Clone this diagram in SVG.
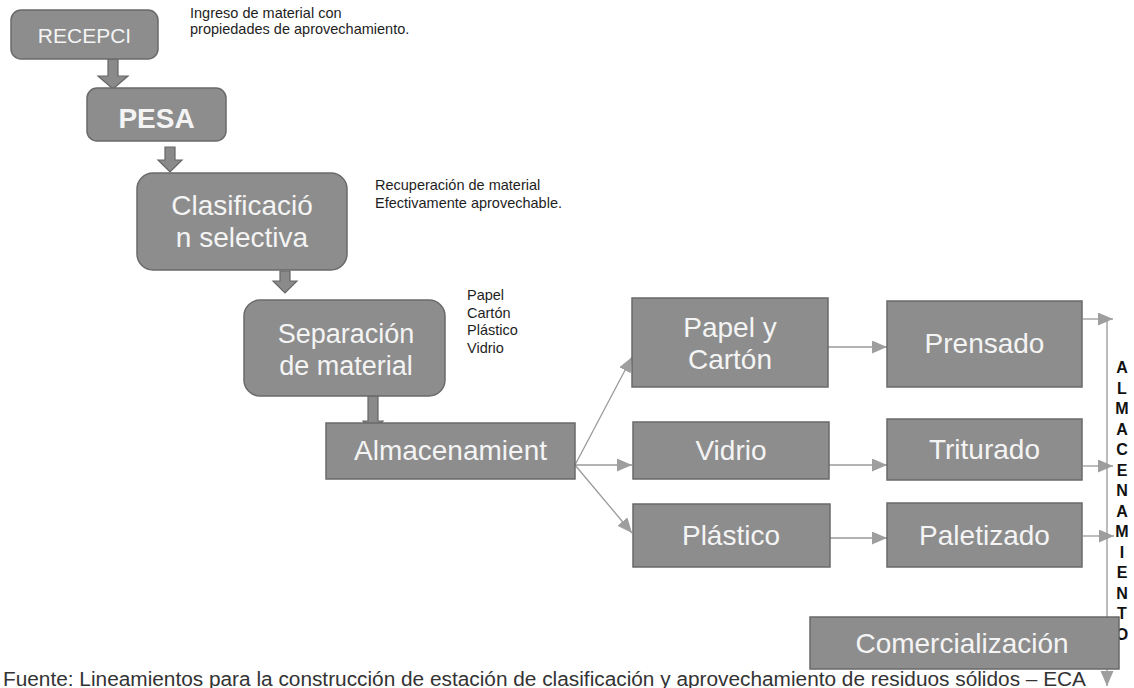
<svg xmlns="http://www.w3.org/2000/svg" width="1134" height="688" viewBox="0 0 1134 688">
<style>
.box{fill:#8d8d8d;stroke:#6a6a6a;stroke-width:1.5}
.bt{font-family:"Liberation Sans",Arial,sans-serif;fill:#f4f4f4;text-anchor:middle}
.note{font-family:"Liberation Sans",Arial,sans-serif;font-size:14.5px;fill:#1e1e1e}
.blk{fill:#8a8a8a;stroke:#666;stroke-width:1.2}
.con{stroke:#9a9a9a;stroke-width:1.3;fill:none}
.vert{font-family:"Liberation Sans",Arial,sans-serif;font-size:16px;font-weight:bold;fill:#111;text-anchor:middle}
</style>
<defs>
<marker id="ah" markerUnits="userSpaceOnUse" markerWidth="16" markerHeight="14" refX="15" refY="6.5" orient="auto">
<path d="M0,0 L15,6.5 L0,13 Z" fill="#9e9e9e"/>
</marker>
</defs>
<rect width="1134" height="688" fill="#ffffff"/>

<g id="connectors">
<path class="blk" d="M108,59 H118 V76 H128 L113,89 L98,76 H108 Z"/>
<path class="blk" d="M165,147 H175 V160 H182 L170,172 L158,160 H165 Z"/>
<path class="blk" d="M280,271 H290 V281 H297 L285,293 L273,281 H280 Z"/>
<path class="blk" d="M368,396 H378 V421 H383 L373,433 L363,421 H368 Z"/>
<line class="con" x1="575" y1="465" x2="632" y2="357" marker-end="url(#ah)"/>
<line class="con" x1="575" y1="465" x2="632" y2="465" marker-end="url(#ah)"/>
<line class="con" x1="575" y1="465" x2="632" y2="533" marker-end="url(#ah)"/>
<line class="con" x1="828" y1="347" x2="887" y2="347" marker-end="url(#ah)"/>
<line class="con" x1="829" y1="465" x2="887" y2="465" marker-end="url(#ah)"/>
<line class="con" x1="830" y1="538" x2="887" y2="538" marker-end="url(#ah)"/>
<line class="con" x1="1083" y1="319" x2="1113" y2="319" marker-end="url(#ah)"/>
<line class="con" x1="1083" y1="466" x2="1113" y2="466" marker-end="url(#ah)"/>
<line class="con" x1="1083" y1="536" x2="1114" y2="536" marker-end="url(#ah)"/>
<line class="con" x1="1107" y1="320" x2="1107" y2="686" marker-end="url(#ah)"/>
</g>

<g id="n-recepci">
<rect class="box" x="11" y="10" width="147" height="49" rx="10"/>
<text class="bt" x="84.5" y="43" font-size="21">RECEPCI</text>
</g>
<g id="n-pesa">
<rect class="box" x="87" y="88" width="139" height="53" rx="10"/>
<text class="bt" x="156.5" y="128" font-size="28" font-weight="bold">PESA</text>
</g>
<g id="n-clasificacion">
<rect class="box" x="137" y="173" width="210" height="97" rx="16"/>
<text class="bt" x="242" y="215" font-size="28">Clasificació</text>
<text class="bt" x="242" y="247" font-size="28">n selectiva</text>
</g>
<g id="n-separacion">
<rect class="box" x="244" y="300" width="201" height="96" rx="16"/>
<text class="bt" x="346" y="343" font-size="27">Separación</text>
<text class="bt" x="346" y="375" font-size="27">de material</text>
</g>
<g id="n-almacenamiento">
<rect class="box" x="326" y="423" width="249" height="56"/>
<text class="bt" x="450.5" y="460" font-size="28">Almacenamient</text>
</g>
<g id="n-papel">
<rect class="box" x="632" y="298" width="196" height="89"/>
<text class="bt" x="730" y="337" font-size="28">Papel y</text>
<text class="bt" x="730" y="369" font-size="28">Cartón</text>
</g>
<g id="n-vidrio">
<rect class="box" x="633" y="422" width="196" height="57"/>
<text class="bt" x="731" y="460" font-size="28">Vidrio</text>
</g>
<g id="n-plastico">
<rect class="box" x="633" y="504" width="197" height="63"/>
<text class="bt" x="731" y="545" font-size="28">Plástico</text>
</g>
<g id="n-prensado">
<rect class="box" x="887" y="301" width="195" height="86"/>
<text class="bt" x="984.5" y="353" font-size="28">Prensado</text>
</g>
<g id="n-triturado">
<rect class="box" x="887" y="419" width="195" height="61"/>
<text class="bt" x="984.5" y="459" font-size="28">Triturado</text>
</g>
<g id="n-paletizado">
<rect class="box" x="887" y="503" width="195" height="64"/>
<text class="bt" x="984.5" y="545" font-size="28">Paletizado</text>
</g>

<g id="n-almacenamiento-vertical">
<text class="vert">
<tspan x="1122" y="373">A</tspan><tspan x="1122" dy="20.5">L</tspan><tspan x="1122" dy="20.5">M</tspan><tspan x="1122" dy="20.5">A</tspan><tspan x="1122" dy="20.5">C</tspan><tspan x="1122" dy="20.5">E</tspan><tspan x="1122" dy="20.5">N</tspan><tspan x="1122" dy="20.5">A</tspan><tspan x="1122" dy="20.5">M</tspan><tspan x="1122" dy="20.5">I</tspan><tspan x="1122" dy="20.5">E</tspan><tspan x="1122" dy="20.5">N</tspan><tspan x="1122" dy="20.5">T</tspan><tspan x="1122" dy="20.5">O</tspan>
</text>
</g>

<g id="n-comercializacion">
<rect class="box" x="810" y="617" width="309" height="52"/>
<text class="bt" x="962" y="653" font-size="28">Comercialización</text>
</g>

<g id="notes">
<text class="note" x="190" y="18">Ingreso de material con</text>
<text class="note" x="190" y="34">propiedades de aprovechamiento.</text>
<text class="note" x="375" y="190">Recuperación de material</text>
<text class="note" x="375" y="208">Efectivamente aprovechable.</text>
<text class="note" x="467" y="300">Papel</text>
<text class="note" x="467" y="318">Cartón</text>
<text class="note" x="467" y="335">Plástico</text>
<text class="note" x="467" y="353">Vidrio</text>
</g>

<text x="3" y="686" font-family="Liberation Sans, Arial, sans-serif" font-size="19.5" fill="#333333" textLength="1083" lengthAdjust="spacingAndGlyphs">Fuente: Lineamientos para la construcción de estación de clasificación y aprovechamiento de residuos sólidos – ECA</text>
</svg>
